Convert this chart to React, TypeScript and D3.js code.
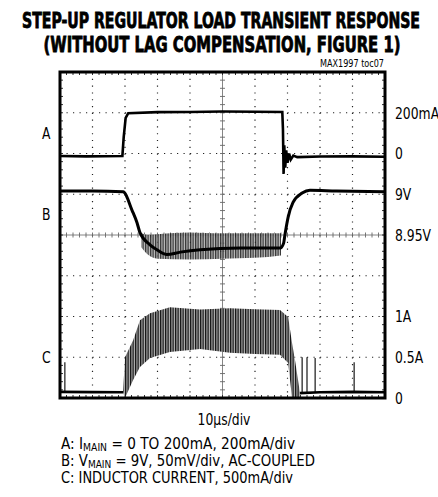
import React, { useEffect, useRef } from 'react';
import * as d3 from 'd3';

type Pt = [number, number];

const titleLines = ['STEP-UP REGULATOR LOAD TRANSIENT RESPONSE', '(WITHOUT LAG COMPENSATION, FIGURE 1)'];
const noteLabel = 'MAX1997 toc07';
const timeLabel = '10\u03bcs/div';
const channelNames = ['A', 'B', 'C'];

// right-hand level labels per channel
const ticksA = [{ v: 200, label: '200mA' }, { v: 0, label: '0' }];
const ticksB = [{ v: 9, label: '9V' }, { v: 8.95, label: '8.95V' }];
const ticksC = [{ v: 1000, label: '1A' }, { v: 500, label: '0.5A' }, { v: 0, label: '0' }];

// A: load current, time in us, current in mA
const traceA: Pt[] = [
	[0, -12], [8, -14], [19.2, -12], [19.6, 80], [20.2, 175], [21, 198], [30, 203], [40, 204],
	[50, 206], [60, 205], [68.4, 204], [68.6, 120], [68.8, -100], [69.0, 40], [69.3, -70],
	[69.6, 15], [70.0, -45], [70.5, 0], [71.0, -30], [71.8, -10], [73, -18], [80, -15], [90, -14], [100, -16],
];

// B: output voltage, volts
const traceB: Pt[] = [
	[0, 9.004], [10, 9.004], [19.4, 9.003], [22.2, 8.98], [23.7, 8.965], [24.6, 8.953], [27.7, 8.938],
	[29.8, 8.932], [32.9, 8.926], [37, 8.929], [43.1, 8.932], [55.4, 8.934], [67.7, 8.934], [68.8, 8.94],
	[69.2, 8.95], [70.2, 8.972], [71.7, 8.99], [74.5, 9.0015], [76.9, 9.005], [85, 9.004], [100, 9.003],
];
// B: noise band while loaded [t, upper, lower]
const bandB: [number, number, number][] = [
	[25, 8.952, 8.935], [27, 8.95, 8.926], [30, 8.951, 8.921], [40, 8.953, 8.92],
	[50, 8.952, 8.921], [60, 8.952, 8.922], [68, 8.952, 8.925],
];

// C: inductor current, mA
const idleC1: Pt[] = [[0, 75], [10, 72], [19.4, 70]];
const idleC2: Pt[] = [[73.8, 60], [80, 70], [90, 75], [100, 70]];
// ripple envelope [t, top, bottom]
const rippleC: [number, number, number][] = [
	[19.4, 75, 75], [20, 500, 0], [22.5, 710, 220], [24.6, 955, 380], [27.7, 1040, 490], [33.8, 1115, 565],
	[43.1, 1085, 600], [52.3, 1100, 555], [60, 1090, 540], [67.7, 1080, 530], [70.2, 995, 430],
	[71.4, 675, 0], [72.3, 465, 0], [73.8, 75, 0],
];
const spikesC: Pt[] = [[1.5, 440], [74.5, 500], [76, 500], [78.5, 490], [90.5, 440]];

const legendRows = [
	{ pre: 'A: I', sub: 'MAIN', post: ' = 0 TO 200mA, 200mA/div', width: 234 },
	{ pre: 'B: V', sub: 'MAIN', post: ' = 9V, 50mV/div, AC-COUPLED', width: 254 },
	{ pre: 'C: INDUCTOR CURRENT, 500mA/div', sub: '', post: '', width: 232 },
];

const W = 438;
const H = 497;
const narrow = "'DejaVu Sans Condensed', 'Liberation Sans Narrow', sans-serif";

const App: React.FC = () => {
	const svgRef = useRef<SVGSVGElement>(null);

	useEffect(() => {
		const svg = d3.select(svgRef.current);
		svg.selectAll('*').remove();

		const plot = { left: 60, right: 385, top: 72, bottom: 398 };
		const x = d3.scaleLinear().domain([0, 100]).range([plot.left, plot.right]);
		const yDiv = d3.scaleLinear().domain([0, 8]).range([plot.bottom, plot.top]);
		const yA = d3.scaleLinear().domain([0, 200]).range([yDiv(6), yDiv(7)]);
		const yB = d3.scaleLinear().domain([8.95, 9]).range([yDiv(4), yDiv(5)]);
		const yC = d3.scaleLinear().domain([0, 500]).range([yDiv(0), yDiv(1)]);

		const defs = svg.append('defs');
		const pat = defs
			.append('pattern')
			.attr('id', 'ripple')
			.attr('patternUnits', 'userSpaceOnUse')
			.attr('width', 2.5)
			.attr('height', 20);
		pat.append('rect').attr('width', 2.5).attr('height', 20).attr('fill', '#b4b4b4');
		pat.append('rect').attr('width', 1.3).attr('height', 20).attr('fill', '#111');

		const clip = defs.append('clipPath').attr('id', 'plotClip');
		clip
			.append('rect')
			.attr('x', plot.left)
			.attr('y', plot.top)
			.attr('width', plot.right - plot.left)
			.attr('height', plot.bottom - plot.top);

		// title (condensed heavy look)
		const title = svg
			.append('g')
			.style('font-family', narrow)
			.style('font-weight', 'bold')
			.style('font-size', '16px')
			.attr('fill', '#000')
			.attr('stroke', '#000')
			.attr('stroke-width', 0.6)
			.attr('text-anchor', 'middle');
		title
			.append('text')
			.attr('transform', 'translate(221,28) scale(1,1.3)')
			.attr('textLength', 398)
			.attr('lengthAdjust', 'spacingAndGlyphs')
			.text(titleLines[0]);
		title
			.append('text')
			.attr('transform', 'translate(222,52) scale(1,1.3)')
			.attr('textLength', 357)
			.attr('lengthAdjust', 'spacingAndGlyphs')
			.text(titleLines[1]);

		svg
			.append('text')
			.attr('x', 320)
			.attr('y', 67)
			.attr('textLength', 64)
			.attr('lengthAdjust', 'spacingAndGlyphs')
			.style('font-family', narrow)
			.style('font-size', '10px')
			.text(noteLabel);

		// graticule
		const grid = svg.append('g');
		const hStep = (plot.right - plot.left) / 10;
		const vStep = (plot.bottom - plot.top) / 8;
		d3.range(1, 10).forEach((i) => {
			if (i === 5) return;
			grid
				.append('line')
				.attr('x1', plot.left + i * hStep)
				.attr('x2', plot.left + i * hStep)
				.attr('y1', plot.top)
				.attr('y2', plot.bottom)
				.attr('stroke', '#222')
				.attr('stroke-width', 1.2)
				.attr('stroke-dasharray', `1.2 ${vStep / 6 - 1.2}`);
		});
		d3.range(1, 8).forEach((j) => {
			if (j === 4) return;
			grid
				.append('line')
				.attr('y1', yDiv(j))
				.attr('y2', yDiv(j))
				.attr('x1', plot.left)
				.attr('x2', plot.right)
				.attr('stroke', '#222')
				.attr('stroke-width', 1.2)
				.attr('stroke-dasharray', `1.2 ${hStep / 5 - 1.2}`);
		});
		const cx = plot.left + 5 * hStep;
		const cy = yDiv(4);
		grid.append('line').attr('x1', cx).attr('x2', cx).attr('y1', plot.top).attr('y2', plot.bottom).attr('stroke', '#777').attr('stroke-width', 0.9);
		grid.append('line').attr('y1', cy).attr('y2', cy).attr('x1', plot.left).attr('x2', plot.right).attr('stroke', '#777').attr('stroke-width', 0.9);
		d3.range(1, 50).forEach((k) => {
			const px = plot.left + (k * hStep) / 5;
			grid.append('line').attr('x1', px).attr('x2', px).attr('y1', cy - 2.5).attr('y2', cy + 2.5).attr('stroke', '#666').attr('stroke-width', 0.9);
			grid.append('line').attr('x1', px).attr('x2', px).attr('y1', plot.top).attr('y2', plot.top + 3).attr('stroke', '#333');
			grid.append('line').attr('x1', px).attr('x2', px).attr('y1', plot.bottom - 3).attr('y2', plot.bottom).attr('stroke', '#333');
		});
		d3.range(1, 40).forEach((k) => {
			const py = plot.top + (k * vStep) / 5;
			grid.append('line').attr('y1', py).attr('y2', py).attr('x1', cx - 2.5).attr('x2', cx + 2.5).attr('stroke', '#666').attr('stroke-width', 0.9);
			grid.append('line').attr('y1', py).attr('y2', py).attr('x1', plot.left).attr('x2', plot.left + 3).attr('stroke', '#333');
			grid.append('line').attr('y1', py).attr('y2', py).attr('x1', plot.right - 3).attr('x2', plot.right).attr('stroke', '#333');
		});

		// traces
		const traces = svg.append('g').attr('clip-path', 'url(#plotClip)');

		// C ripple
		const rippleArea = d3
			.area<[number, number, number]>()
			.x((d) => x(d[0]))
			.y0((d) => yC(d[2]))
			.y1((d) => yC(d[1]));
		traces.append('path').attr('d', rippleArea(rippleC) as string).attr('fill', 'url(#ripple)');

		const lineC = d3.line<Pt>().x((d) => x(d[0])).y((d) => yC(d[1]));
		[idleC1, idleC2].forEach((seg) => {
			traces.append('path').attr('d', lineC(seg) as string).attr('fill', 'none').attr('stroke', '#000').attr('stroke-width', 2.6);
		});
		traces
			.selectAll('line.spike')
			.data(spikesC)
			.enter()
			.append('line')
			.attr('x1', (d) => x(d[0]))
			.attr('x2', (d) => x(d[0]))
			.attr('y1', yC(70))
			.attr('y2', (d) => yC(d[1]))
			.attr('stroke', '#000')
			.attr('stroke-width', 1.1);

		// B noise band + trace
		const bandArea = d3
			.area<[number, number, number]>()
			.x((d) => x(d[0]))
			.y0((d) => yB(d[2]))
			.y1((d) => yB(d[1]))
			.curve(d3.curveMonotoneX);
		traces.append('path').attr('d', bandArea(bandB) as string).attr('fill', 'url(#ripple)').attr('opacity', 0.85);
		const lineB = d3.line<Pt>().x((d) => x(d[0])).y((d) => yB(d[1])).curve(d3.curveMonotoneX);
		traces.append('path').attr('d', lineB(traceB) as string).attr('fill', 'none').attr('stroke', '#000').attr('stroke-width', 3);

		// A trace
		const lineA = d3.line<Pt>().x((d) => x(d[0])).y((d) => yA(d[1]));
		traces.append('path').attr('d', lineA(traceA) as string).attr('fill', 'none').attr('stroke', '#000').attr('stroke-width', 2.6);

		// frame
		svg
			.append('rect')
			.attr('x', plot.left)
			.attr('y', plot.top)
			.attr('width', plot.right - plot.left)
			.attr('height', plot.bottom - plot.top)
			.attr('fill', 'none')
			.attr('stroke', '#000')
			.attr('stroke-width', 3);

		// level labels
		const labels = svg.append('g').style('font-family', narrow).style('font-size', '16px');
		const addLevel = (ticks: { v: number; label: string }[], y: d3.ScaleLinear<number, number>) => {
			ticks.forEach((t) => {
				labels
					.append('text')
					.attr('transform', `translate(395,${y(t.v)}) scale(0.86,1)`)
					.attr('dy', '0.36em')
					.text(t.label);
			});
		};
		addLevel(ticksA, yA);
		addLevel(ticksB, yB);
		addLevel(ticksC, yC);

		const chanY = [yA(100), yB(8.975), yC(500)];
		channelNames.forEach((n, i) => {
			labels
				.append('text')
				.attr('transform', `translate(42,${chanY[i]}) scale(0.86,1)`)
				.attr('dy', '0.36em')
				.text(n);
		});

		// time base + legend
		svg
			.append('text')
			.attr('transform', 'translate(224,425) scale(0.86,1)')
			.attr('text-anchor', 'middle')
			.style('font-family', narrow)
			.style('font-size', '16px')
			.text(timeLabel);

		const legend = svg.append('g').style('font-family', narrow).style('font-size', '15.5px');
		legendRows.forEach((r, i) => {
			const t = legend
				.append('text')
				.attr('x', 61)
				.attr('y', 449 + i * 16.8)
				.attr('textLength', r.width)
				.attr('lengthAdjust', 'spacingAndGlyphs');
			t.append('tspan').text(r.pre);
			if (r.sub) {
				t.append('tspan').attr('dy', 2).style('font-size', '10.5px').text(r.sub);
				t.append('tspan').attr('dy', -2).text(r.post);
			}
		});
	}, []);

	return (
		<svg
			ref={svgRef}
			width={W}
			height={H}
			style={{ position: 'absolute', left: 0, top: 0, background: '#fff' }}
		/>
	);
};

export default App;
